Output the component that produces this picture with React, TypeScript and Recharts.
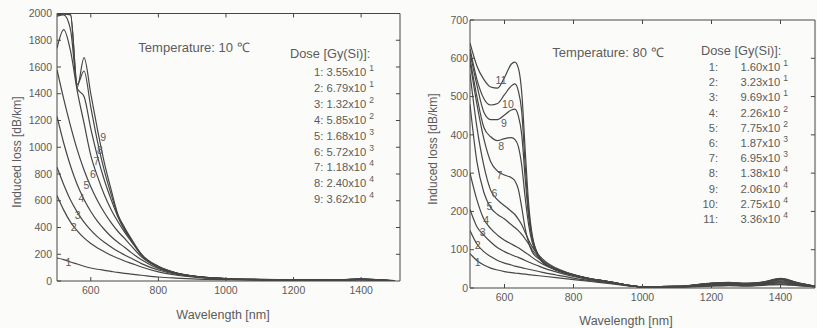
import React from "react";
import { Line, LineChart, ReferenceDot, ReferenceLine, XAxis, YAxis } from "recharts";

const FONT = "'Liberation Sans', Arial, Helvetica, sans-serif";
const INK = "#464646";
const TXT = "#5c5c5c";

// ---- 10 °C panel ----
const WL_10 = [500, 520, 540, 560, 580, 600, 620, 640, 660, 680, 700, 720, 750, 800, 850, 900, 1000, 1100, 1200, 1300, 1350, 1400, 1450, 1500];
const T10_D1 = [172, 160, 142, 127, 110, 97, 88, 80, 72, 64, 57, 51, 43, 30, 22, 16, 10, 7, 6, 5, 6, 8, 5, 1];
const T10_D2 = [640, 530, 440, 375, 322, 280, 247, 218, 192, 170, 150, 132, 105, 68, 45, 30, 14, 9, 7, 6, 7, 10, 6, 1];
const T10_D3 = [850, 720, 605, 515, 440, 380, 330, 290, 255, 222, 195, 170, 130, 82, 52, 34, 15, 10, 8, 7, 7, 11, 7, 1];
const T10_D4 = [1230, 1030, 860, 720, 610, 520, 445, 385, 333, 290, 252, 212, 158, 92, 57, 36, 16, 10, 8, 7, 8, 12, 7, 1];
const T10_D5 = [1580, 1360, 1160, 980, 830, 705, 600, 512, 437, 372, 318, 262, 180, 100, 60, 37, 17, 11, 8, 8, 8, 13, 8, 2];
const T10_D6 = [1740, 1880, 1720, 1420, 1180, 940, 780, 645, 535, 445, 365, 295, 192, 105, 61, 37, 17, 11, 9, 8, 9, 14, 8, 2];
const T10_D7 = [1980, 1990, 1880, 1440, 1380, 1140, 930, 755, 610, 480, 380, 305, 196, 107, 62, 38, 18, 11, 9, 8, 9, 15, 8, 2];
const T10_D8 = [1990, 1995, 1990, 1470, 1570, 1300, 1040, 825, 650, 490, 390, 310, 198, 108, 62, 38, 18, 12, 9, 8, 9, 16, 9, 2];
const T10_D9 = [1995, 2000, 1995, 1450, 1670, 1400, 1130, 885, 685, 500, 400, 315, 200, 110, 63, 38, 18, 12, 9, 9, 10, 17, 9, 2];
const T10_SERIES = [T10_D1, T10_D2, T10_D3, T10_D4, T10_D5, T10_D6, T10_D7, T10_D8, T10_D9];
const T10_DOSE = ["3.55", "6.79", "1.32", "5.85", "1.68", "5.72", "1.18", "2.40", "3.62"];
const T10_EXP = ["1", "1", "2", "2", "3", "3", "4", "4", "4"];
// curve number tags: [wavelength, loss]
const T10_TAGS: [number, number][] = [[534, 144], [549, 406], [561, 493], [572, 618], [587, 717], [606, 800], [617, 895], [627, 980], [637, 1075]];

// ---- 80 °C panel ----
const WL_80 = [500, 520, 540, 560, 580, 600, 620, 630, 640, 650, 660, 670, 680, 700, 720, 750, 800, 850, 900, 1000, 1100, 1200, 1250, 1300, 1350, 1400, 1450, 1500];
const T80_D1 = [90, 72, 60, 52, 47, 43, 40, 39, 38, 37, 36, 35, 34, 32, 30, 27, 22, 17, 12, 3, 2, 5, 6, 5, 7, 9, 6, 3];
const T80_D2 = [150, 115, 95, 82, 72, 65, 60, 57, 55, 53, 51, 49, 47, 43, 39, 34, 26, 19, 14, 3, 3, 6, 7, 6, 8, 11, 7, 3];
const T80_D3 = [205, 160, 138, 120, 105, 95, 87, 83, 80, 76, 72, 68, 64, 57, 50, 42, 30, 21, 15, 3, 3, 7, 8, 7, 9, 13, 8, 4];
const T80_D4 = [300, 230, 180, 155, 138, 125, 115, 110, 105, 99, 93, 87, 80, 68, 58, 47, 32, 22, 16, 3, 3, 8, 9, 8, 10, 15, 9, 4];
const T80_D5 = [480, 330, 250, 210, 192, 180, 165, 158, 150, 140, 128, 115, 100, 80, 65, 50, 34, 23, 16, 3, 4, 9, 10, 9, 11, 17, 10, 4];
const T80_D6 = [560, 420, 320, 255, 230, 215, 200, 192, 180, 165, 145, 125, 108, 85, 68, 52, 35, 24, 17, 3, 4, 10, 11, 10, 12, 19, 11, 5];
const T80_D7 = [590, 480, 390, 330, 305, 295, 288, 280, 258, 210, 155, 118, 95, 76, 60, 48, 35, 24, 17, 3, 4, 11, 12, 11, 13, 21, 12, 5];
const T80_D8 = [600, 500, 420, 395, 385, 390, 393, 388, 370, 320, 235, 165, 120, 80, 61, 47, 34, 24, 17, 3, 4, 12, 13, 11, 14, 23, 13, 5];
const T80_D9 = [615, 530, 460, 440, 440, 452, 465, 467, 450, 400, 285, 185, 128, 82, 61, 47, 34, 24, 17, 3, 4, 12, 14, 12, 15, 24, 13, 5];
const T80_D10 = [625, 545, 495, 478, 482, 505, 528, 533, 515, 460, 320, 200, 135, 82, 61, 47, 34, 24, 17, 3, 4, 12, 14, 12, 15, 24, 13, 5];
const T80_D11 = [640, 580, 545, 525, 522, 550, 585, 590, 575, 510, 360, 220, 140, 83, 62, 47, 34, 24, 17, 3, 4, 13, 15, 12, 16, 25, 14, 5];
const T80_SERIES = [T80_D1, T80_D2, T80_D3, T80_D4, T80_D5, T80_D6, T80_D7, T80_D8, T80_D9, T80_D10, T80_D11];
const T80_DOSE = ["1.60", "3.23", "9.69", "2.26", "7.75", "1.87", "6.95", "1.38", "2.06", "2.75", "3.36"];
const T80_EXP = ["1", "1", "1", "2", "2", "3", "3", "4", "4", "4", "4"];
const T80_TAGS: [number, number][] = [[522, 68], [522, 112], [537, 147], [547, 178], [556, 213], [571, 248], [585, 296], [590, 371], [598, 432], [610, 480], [590, 542]];

const X_TICKS = [600, 800, 1000, 1200, 1400];
const Y10_TICKS = [0, 200, 400, 600, 800, 1000, 1200, 1400, 1600, 1800, 2000];
const Y80_TICKS = [0, 100, 200, 300, 400, 500, 600, 700];

function toRows(wl: number[], series: number[][]) {
  return wl.map((w, i) => {
    const row: Record<string, number> = { wl: w };
    series.forEach((s, k) => (row["d" + (k + 1)] = s[i]));
    return row;
  });
}

const tickStyle = { fill: TXT, fontSize: 10.5, fontFamily: FONT };

function Panel(props: {
  left: number;
  width: number;
  margin: { top: number; right: number; bottom: number; left: number };
  yWidth: number;
  xHeight: number;
  xDomain: [number, number];
  yDomain: [number, number];
  yTicks: number[];
  yTickMargin: number;
  tickX: number; // inward tick length in data units along x
  tickY: number; // inward tick length in data units along y
  wl: number[];
  series: number[][];
  tags: [number, number][];
}) {
  const data = toRows(props.wl, props.series);
  const x1 = props.xDomain[1];
  const y1 = props.yDomain[1];
  return (
    <div style={{ position: "absolute", left: props.left, top: 0 }}>
      <LineChart width={props.width} height={328} data={data} margin={props.margin}>
        <XAxis
          dataKey="wl"
          type="number"
          domain={props.xDomain}
          ticks={X_TICKS}
          allowDataOverflow
          height={props.xHeight}
          tick={tickStyle}
          tickSize={-4}
          tickMargin={10}
          stroke={INK}
        />
        <YAxis
          type="number"
          domain={props.yDomain}
          ticks={props.yTicks}
          allowDataOverflow
          width={props.yWidth}
          tick={tickStyle}
          tickSize={-4}
          tickMargin={props.yTickMargin}
          stroke={INK}
        />
        {/* box: top and right edges with inward ticks */}
        <ReferenceLine y={y1} stroke={INK} />
        <ReferenceLine x={x1} stroke={INK} />
        {X_TICKS.map((t) => (
          <ReferenceLine key={"tx" + t} segment={[{ x: t, y: y1 }, { x: t, y: y1 - props.tickY }]} stroke={INK} />
        ))}
        {props.yTicks.slice(1, -1).map((t) => (
          <ReferenceLine key={"ty" + t} segment={[{ x: x1, y: t }, { x: x1 - props.tickX, y: t }]} stroke={INK} />
        ))}
        {props.series.map((_, k) => (
          <Line
            key={k}
            dataKey={"d" + (k + 1)}
            type="monotone"
            stroke={INK}
            strokeWidth={1.2}
            dot={false}
            isAnimationActive={false}
          />
        ))}
        {props.tags.map(([x, y], k) => (
          <ReferenceDot
            key={"t" + k}
            x={x}
            y={y}
            r={0}
            shape={(p: any) => (
              <text x={p.cx} y={p.cy} textAnchor="middle" dominantBaseline="central" fontSize={10.5} fontFamily={FONT} fill={TXT}>
                {k + 1}
              </text>
            )}
          />
        ))}
      </LineChart>
    </div>
  );
}

const abs = (x: number, y: number, extra: React.CSSProperties = {}): React.CSSProperties => ({
  position: "absolute",
  left: x,
  top: y,
  transform: "translate(-50%, -50%)",
  whiteSpace: "nowrap",
  ...extra,
});

const supStyle: React.CSSProperties = { fontSize: 8.5, position: "relative", top: -5, marginLeft: 3 };

export default function App() {
  return (
    <div
      style={{
        position: "absolute",
        left: 0,
        top: 0,
        width: 817,
        height: 328,
        background: "#fbfbf9",
        fontFamily: FONT,
        color: TXT,
        overflow: "hidden",
      }}
    >
      <Panel
        left={0}
        width={410}
        margin={{ top: 13.5, right: 10, bottom: 17, left: 0 }}
        yWidth={57}
        xHeight={30}
        xDomain={[500, 1515]}
        yDomain={[0, 2000]}
        yTicks={Y10_TICKS}
        yTickMargin={9}
        tickX={12}
        tickY={30}
        wl={WL_10}
        series={T10_SERIES}
        tags={T10_TAGS}
      />
      <Panel
        left={408}
        width={409}
        margin={{ top: 20, right: 2, bottom: 12, left: 0 }}
        yWidth={62}
        xHeight={28}
        xDomain={[500, 1500]}
        yDomain={[0, 700]}
        yTicks={Y80_TICKS}
        yTickMargin={6}
        tickX={12}
        tickY={10.5}
        wl={WL_80}
        series={T80_SERIES}
        tags={T80_TAGS}
      />

      {/* axis titles */}
      <div style={abs(17, 152, { transform: "translate(-50%, -50%) rotate(-90deg)", fontSize: 12 })}>Induced loss [dB/km]</div>
      <div style={abs(223, 315, { fontSize: 12.5 })}>Wavelength [nm]</div>
      <div style={abs(433, 149, { transform: "translate(-50%, -50%) rotate(-90deg)", fontSize: 12 })}>Induced loss [dB/km]</div>
      <div style={abs(626, 321, { fontSize: 12.5 })}>Wavelength [nm]</div>

      {/* 10 °C annotations */}
      <div style={abs(194, 47, { fontSize: 13 })}>Temperature: 10 ℃</div>
      <div style={{ position: "absolute", left: 290, top: 46, fontSize: 12.8, whiteSpace: "nowrap" }}>Dose [Gy(Si)]:</div>
      {T10_DOSE.map((d, i) => (
        <div
          key={i}
          style={{ position: "absolute", right: 817 - 374, top: 66 + i * 15.9, fontSize: 11.2, whiteSpace: "nowrap", textAlign: "right" }}
        >
          {i + 1}: {d}x10<span style={supStyle}>{T10_EXP[i]}</span>
        </div>
      ))}

      {/* 80 °C annotations */}
      <div style={abs(608, 52, { fontSize: 13 })}>Temperature: 80 ℃</div>
      <div style={{ position: "absolute", left: 701, top: 43, fontSize: 12.8, whiteSpace: "nowrap" }}>Dose [Gy(Si)]:</div>
      {T80_DOSE.map((d, i) => (
        <div key={i} style={{ position: "absolute", left: 698, width: 90, top: 61 + i * 15.2, fontSize: 11.2, whiteSpace: "nowrap", display: "flex" }}>
          <span style={{ width: 20, textAlign: "right" }}>{i + 1}:</span>
          <span style={{ flex: 1, textAlign: "right" }}>
            {d}x10<span style={supStyle}>{T80_EXP[i]}</span>
          </span>
        </div>
      ))}
    </div>
  );
}
